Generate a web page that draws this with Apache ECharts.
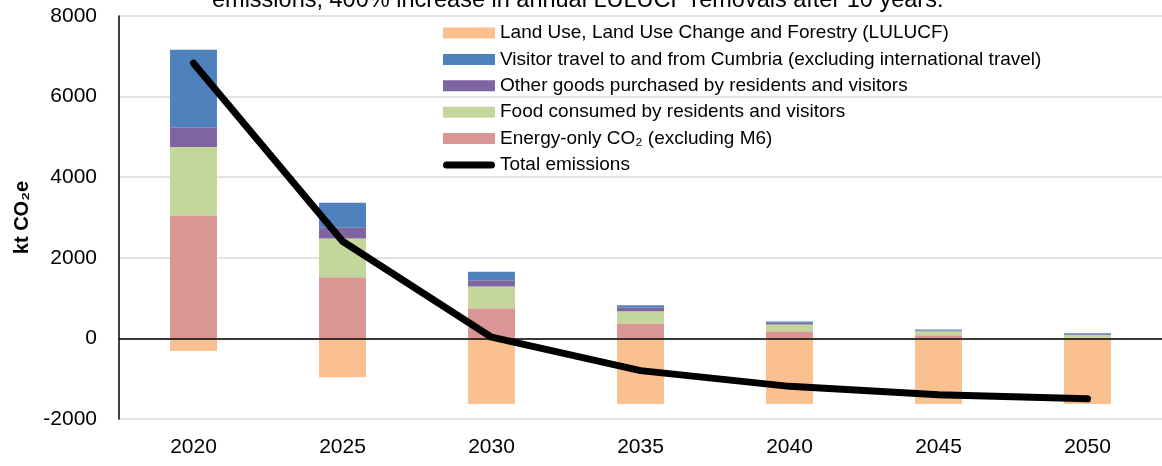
<!DOCTYPE html>
<html><head><meta charset="utf-8">
<script src="https://cdn.jsdelivr.net/npm/echarts@6/dist/echarts.min.js"></script>
<style>html,body{margin:0;padding:0;background:#fff}#c{width:1162px;height:466px}</style>
</head><body><div id="c"></div>
<script>
const years = ['2020','2025','2030','2035','2040','2045','2050'];
const lulucf = [-314, -965, -1630, -1625, -1625, -1625, -1625];
const energy = [3050, 1520, 750, 370, 180, 80, 25];
const food = [1700, 960, 540, 305, 165, 95, 60];
const otherGoods = [490, 265, 155, 85, 42, 20, 15];
const visitor = [1920, 620, 210, 65, 32, 25, 25];
const total = [6830, 2410, 30, -800, -1190, -1400, -1500];
const yTicks = {min: -2000, max: 8000, interval: 2000};

const FONT = 'Liberation Sans';
const chart = echarts.init(document.getElementById('c'));
const barW = '31.5%';
function bar(name, data, color, extra) {
  return Object.assign({name, type: 'bar', stack: 's', data, barWidth: barW,
    itemStyle: {color}, emphasis: {disabled: true}}, extra || {});
}
chart.setOption({
  animation: false,
  textStyle: {fontFamily: FONT},
  grid: {left: 119, right: 0, top: 16, bottom: 47},
  graphic: [{type: 'text', left: 212, top: -11, style: {text: 'emissions, 400% increase in annual LULUCF removals after 10 years.', font: '23.5px ' + FONT, fill: '#000'}}],
  legend: {
    orient: 'vertical', left: 443, top: 23.5, padding: 0, itemWidth: 52, itemHeight: 11, itemGap: 7.4,
    icon: 'rect',
    textStyle: {fontSize: 19, color: '#000'},
    data: [
      'Land Use, Land Use Change and Forestry (LULUCF)',
      'Visitor travel to and from Cumbria (excluding international travel)',
      'Other goods purchased by residents and visitors',
      'Food consumed by residents and visitors',
      'Energy-only CO₂ (excluding M6)',
      {name: 'Total emissions', icon: 'path://M3.5,0 H48.5 A3.5,3.5 0 0 1 48.5,7 H3.5 A3.5,3.5 0 0 1 3.5,0 Z', itemStyle: {color: '#000'}}
    ]
  },
  xAxis: {type: 'category', data: years, axisLine: {show: false}, axisTick: {show: false},
    axisLabel: {fontSize: 21, color: '#000', margin: 18}},
  yAxis: {type: 'value', min: yTicks.min, max: yTicks.max, interval: yTicks.interval,
    axisLine: {show: true, lineStyle: {color: '#000', width: 1.5}}, axisTick: {show: false},
    splitLine: {lineStyle: {color: '#d9d9d9', width: 1.5}},
    axisLabel: {fontSize: 21, color: '#000', margin: 22, formatter: v => String(v)},
    name: 'kt CO₂e', nameLocation: 'middle', nameGap: 86, nameRotate: 90,
    nameTextStyle: {fontSize: 20, fontWeight: 'bold', color: '#000'}},
  series: [
    bar('Energy-only CO₂ (excluding M6)', energy, '#D99694', {
      markLine: {silent: true, symbol: 'none', label: {show: false}, lineStyle: {color: '#000', width: 1.5, type: 'solid'}, data: [{yAxis: 0}]}
    }),
    bar('Food consumed by residents and visitors', food, '#C4D79B'),
    bar('Other goods purchased by residents and visitors', otherGoods, '#8064A2'),
    bar('Visitor travel to and from Cumbria (excluding international travel)', visitor, '#4F81BD'),
    bar('Land Use, Land Use Change and Forestry (LULUCF)', lulucf, '#FAC090'),
    {name: 'Total emissions', type: 'line', data: total, symbol: 'none', z: 5,
      lineStyle: {color: '#000', width: 7, cap: 'round', join: 'round'}, itemStyle: {color: '#000'}}
  ]
});
</script></body></html>
